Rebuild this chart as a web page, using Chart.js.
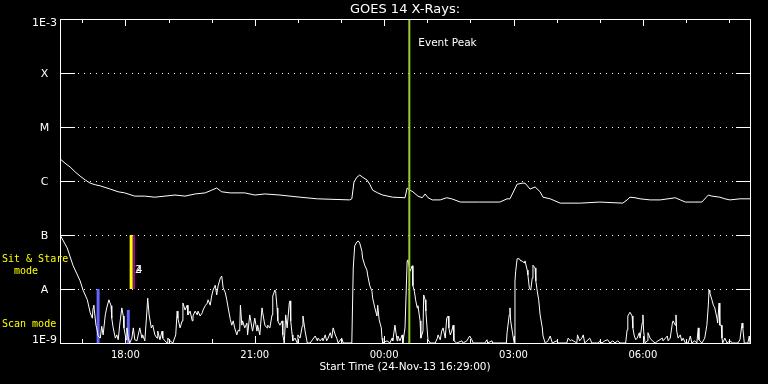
<!DOCTYPE html>
<html><head><meta charset="utf-8">
<script src="https://cdn.jsdelivr.net/npm/chart.js@4/dist/chart.umd.min.js"></script>
<style>html,body{margin:0;padding:0;background:#000;}#wrap{width:768px;height:384px;position:relative;}</style>
</head><body><div id="wrap"><canvas id="c" width="768" height="384"></canvas></div>
<script>
// ---- data ----
const chartTitle = 'GOES 14 X-Rays:';
const axisTitle = 'Start Time (24-Nov-13 16:29:00)';
const spanMin = 960; // minutes after 16:29 start

const classTickValues = [1e-9, 1e-8, 1e-7, 1e-6, 1e-5, 1e-4, 1e-3];
const classTickLabels = ['1E-9', 'A', 'B', 'C', 'M', 'X', '1E-3'];

const timeTickMin = [91, 271, 451, 631, 811];
const timeTickLabels = ['18:00', '21:00', '00:00', '03:00', '06:00'];
const hourTickMin = [31, 91, 151, 211, 271, 331, 391, 451, 511, 571, 631, 691, 751, 811, 871, 931];

// long channel (1-8 A), minutes after start, log10 flux W/m^2
const longTimesMin = [0,7,14,21,28,35,42,49,56,70, 81,90,104,118,132,146,160,174,188,202,
  211,218,225,237,257,271,285,306,320,334, 358,403,406,409,413,417,421,427,431,435,
  442,449,463,480,483,487,491,498,504,508, 512,518,529,538,545,557,584,612,622,626,
  636,643,647,654,661,668,672,682,696,724, 751,783,789,793,800,807,821,835,846,856,
  863,870,893,902,907,918,925,932,946,960];
const longLog10Flux = [-5.59,-5.67,-5.74,-5.83,-5.91,-5.98,-6.04,-6.07,-6.09,-6.15,
  -6.20,-6.22,-6.28,-6.28,-6.30,-6.28,-6.26,-6.28,-6.24,-6.22,
  -6.17,-6.13,-6.20,-6.22,-6.22,-6.26,-6.24,-6.26,-6.28,-6.30,
  -6.33,-6.35,-6.33,-6.02,-5.93,-5.89,-5.93,-5.98,-6.06,-6.17,
  -6.22,-6.26,-6.30,-6.31,-6.13,-6.17,-6.20,-6.28,-6.31,-6.24,
  -6.31,-6.35,-6.35,-6.31,-6.33,-6.39,-6.39,-6.39,-6.33,-6.33,
  -6.06,-6.04,-6.04,-6.15,-6.11,-6.20,-6.30,-6.33,-6.41,-6.41,
  -6.39,-6.41,-6.35,-6.30,-6.31,-6.33,-6.35,-6.35,-6.33,-6.31,
  -6.35,-6.39,-6.39,-6.26,-6.28,-6.30,-6.33,-6.35,-6.33,-6.33];

// short channel (0.5-4 A)
const shortTimesMin = [0,1,10,18,28,32,38,42,45,46,
  47,50,51,53,56,58,60,63,65,68,
  71,72,74,77,79,81,83,86,88,89,
  92,93,95,97,100,102,104,107,111,114,
  115,118,121,122,124,127,129,132,135,136,
  139,142,143,146,149,150,153,157,161,163,
  164,167,170,171,174,177,178,181,184,185,
  188,191,192,195,198,199,202,205,206,209,
  211,213,216,218,220,223,225,227,230,232,
  234,237,239,241,243,246,248,250,251,253,
  254,257,260,261,264,267,268,271,274,275,
  278,281,282,285,288,289,292,295,296,299,
  300,302,303,306,309,310,312,314,316,319,
  320,321,323,324,327,330,331,334,337,338,
  341,344,348,355,358,359,362,365,366,369,
  371,373,376,378,380,383,385,387,392,394,
  406,408,410,413,415,417,420,421,424,427,
  428,431,434,435,438,441,442,444,447,448,
  449,455,459,462,463,466,469,470,473,476,
  477,480,483,484,487,490,491,493,495,497,
  498,501,502,505,506,508,509,511,512,515,
  522,525,526,529,531,533,536,538,540,541,
  543,545,547,548,552,559,561,566,570,573,
  575,591,594,595,601,602,621,622,625,626,
  627,630,632,633,634,636,639,641,643,646,
  647,650,651,653,655,657,658,661,662,664,
  666,668,671,672,675,679,682,685,691,693,
  705,707,710,712,714,719,720,723,726,728,
  730,737,740,749,751,754,758,762,765,769,
  772,776,779,787,789,790,793,796,797,799,
  801,803,806,807,810,811,812,814,817,818,
  821,824,828,832,838,839,845,846,849,852,
  853,856,857,858,860,863,865,867,870,874,
  877,879,883,886,888,889,893,897,900,902,
  903,904,907,909,911,914,915,917,918,920,
  921,922,925,928,932,936,943,946,949,950,
  952,957,959,960];
const shortLog10Flux = [-7.00,-7.02,-7.24,-7.56,-7.85,-8.02,-8.20,-8.44,-8.54,-8.35,
  -8.30,-8.67,-8.72,-8.87,-8.91,-8.69,-8.85,-8.48,-8.35,-8.20,
  -8.31,-8.54,-8.72,-8.91,-8.85,-8.94,-8.67,-8.35,-8.50,-8.72,
  -8.94,-8.72,-8.91,-9.00,-8.91,-8.72,-8.94,-8.96,-8.72,-8.91,
  -8.85,-8.96,-8.39,-8.17,-8.48,-8.72,-8.67,-8.85,-8.91,-8.78,
  -8.94,-8.78,-8.91,-8.96,-9.00,-8.91,-8.96,-9.00,-8.85,-8.41,
  -8.54,-8.72,-8.59,-8.26,-8.39,-8.30,-8.48,-8.41,-8.59,-8.50,
  -8.41,-8.48,-8.41,-8.50,-8.44,-8.39,-8.31,-8.26,-8.20,-8.30,
  -8.13,-8.02,-7.93,-8.11,-7.94,-7.80,-7.76,-7.98,-8.07,-8.20,
  -8.35,-8.57,-8.67,-8.59,-8.72,-8.85,-8.76,-8.78,-8.30,-8.67,
  -8.59,-8.72,-8.63,-8.85,-8.48,-8.72,-8.78,-8.54,-8.78,-8.67,
  -8.85,-8.35,-8.44,-8.67,-8.72,-8.67,-8.72,-8.48,-8.13,-8.02,
  -8.04,-8.35,-8.59,-8.67,-8.59,-8.85,-9.00,-8.48,-8.72,-8.26,
  -8.22,-8.59,-8.85,-8.96,-8.91,-9.00,-8.85,-8.91,-8.69,-8.50,
  -8.78,-9.00,-9.00,-8.87,-8.96,-8.91,-8.96,-8.91,-8.96,-8.85,
  -8.96,-8.91,-8.81,-8.91,-8.72,-8.85,-8.91,-9.00,-8.91,-9.00,
  -9.00,-7.61,-7.20,-7.13,-7.11,-7.15,-7.30,-7.43,-7.56,-7.65,
  -7.74,-7.94,-8.04,-8.17,-8.35,-8.50,-8.30,-8.57,-8.72,-8.91,
  -9.00,-8.96,-9.00,-8.91,-8.96,-8.67,-8.96,-8.87,-8.96,-8.85,
  -9.00,-8.72,-7.48,-7.46,-7.67,-7.57,-7.94,-8.04,-8.22,-8.35,
  -8.31,-8.59,-8.91,-8.78,-8.11,-8.20,-8.41,-8.78,-8.94,-9.00,
  -9.00,-8.91,-8.85,-8.94,-8.78,-8.72,-8.91,-8.54,-8.50,-8.72,
  -8.85,-8.78,-8.67,-8.96,-9.00,-8.96,-9.00,-8.96,-8.87,-8.94,
  -9.00,-9.00,-8.94,-9.00,-8.96,-9.00,-9.00,-8.81,-8.48,-8.35,
  -8.59,-8.85,-9.00,-7.85,-7.67,-7.44,-7.44,-7.48,-7.48,-7.52,
  -7.48,-7.65,-7.74,-7.98,-8.02,-7.80,-7.56,-7.61,-7.85,-8.04,
  -8.20,-8.48,-8.72,-8.87,-9.00,-8.96,-8.87,-9.00,-8.96,-9.00,
  -9.00,-8.91,-8.96,-8.94,-8.96,-9.00,-8.85,-8.96,-8.91,-8.85,
  -9.00,-8.91,-9.00,-9.00,-8.96,-9.00,-8.96,-8.94,-9.00,-8.96,
  -9.00,-8.96,-9.00,-9.00,-8.76,-8.50,-8.43,-8.50,-8.72,-8.87,
  -8.94,-8.91,-8.81,-8.91,-8.63,-8.48,-8.78,-9.00,-8.96,-8.81,
  -8.91,-8.96,-9.00,-8.96,-8.91,-8.96,-8.87,-8.96,-8.91,-8.63,
  -8.59,-8.67,-8.48,-8.78,-8.91,-8.85,-8.96,-8.91,-9.00,-9.00,
  -8.87,-9.00,-8.96,-9.00,-8.72,-8.94,-9.00,-8.91,-8.67,-8.30,
  -8.02,-8.07,-8.20,-8.30,-8.35,-8.54,-8.63,-8.26,-8.67,-8.67,
  -8.91,-9.00,-8.91,-9.00,-8.96,-9.00,-9.00,-8.94,-8.63,-8.72,
  -9.00,-9.00,-8.87,-9.00];

// markers
const eventPeakMin = 486;
const sitStareMin = [99, 103];          // yellow, magenta
const sitStareRange = [1e-8, 1e-7];
const scanModeMin = [53, 95];
const scanModeTop = [1e-8, 4.1e-9];
const scanModeBottom = 1e-9;

// ---- build ----
const toPoints = (ts, ls) => ts.map((t, i) => ({x: t, y: Math.pow(10, ls[i])}));
const vline = (t, lo, hi) => [{x: t, y: lo}, {x: t, y: hi}];

const base = {pointRadius: 0, tension: 0, fill: false, spanGaps: true};
const datasets = [
  Object.assign({label: 'Event Peak', data: vline(eventPeakMin, 1e-9, 1e-3), borderColor: '#9acd32', borderWidth: 2, order: 0}, base),
  Object.assign({label: 'Sit & Stare', data: vline(sitStareMin[0], sitStareRange[0], sitStareRange[1]), borderColor: '#ffff00', borderWidth: 3, order: 0}, base),
  Object.assign({label: 'Sit & Stare 2', data: vline(sitStareMin[1], sitStareRange[0], sitStareRange[1]), borderColor: '#cc00cc', borderWidth: 1.5, order: 0}, base),
  Object.assign({label: 'long', data: toPoints(longTimesMin, longLog10Flux), borderColor: '#ffffff', borderWidth: 1, order: 1}, base),
  Object.assign({label: 'short', data: toPoints(shortTimesMin, shortLog10Flux), borderColor: '#ffffff', borderWidth: 1, order: 1}, base),
  Object.assign({label: 'Scan 1', data: vline(scanModeMin[0], scanModeBottom, scanModeTop[0]), borderColor: '#6464ff', borderWidth: 3, order: 2}, base),
  Object.assign({label: 'Scan 2', data: vline(scanModeMin[1], scanModeBottom, scanModeTop[1]), borderColor: '#6464ff', borderWidth: 3, order: 2}, base)
];

const goesDecor = {
  id: 'goesDecor',
  beforeDatasetsDraw(chart) {
    const {ctx, chartArea: a, scales: {y}} = chart;
    ctx.save();
    ctx.fillStyle = '#ffffff';
    classTickValues.forEach((v, i) => {
      if (i === 0 || i === classTickValues.length - 1) return;
      const py = Math.round(y.getPixelForValue(v));
      for (let px = a.left + 18; px <= a.right - 17; px += 6) ctx.fillRect(px, py, 1, 1);
    });
    ctx.restore();
  },
  afterDatasetsDraw(chart) {
    const {ctx, chartArea: a, scales: {x, y}} = chart;
    ctx.save();
    ctx.strokeStyle = '#ffffff';
    ctx.lineWidth = 1;
    ctx.strokeRect(a.left + 0.5, a.top + 0.5, a.right - a.left, a.bottom - a.top);
    ctx.beginPath();
    classTickValues.forEach((v, i) => {
      if (i === 0 || i === classTickValues.length - 1) return;
      const py = Math.round(y.getPixelForValue(v)) + 0.5;
      ctx.moveTo(a.left, py); ctx.lineTo(a.left + 15, py);
      ctx.moveTo(a.right - 14, py); ctx.lineTo(a.right, py);
    });
    hourTickMin.forEach(t => {
      const px = Math.round(x.getPixelForValue(t)) + 0.5;
      const len = timeTickMin.includes(t) ? 7 : 4;
      ctx.moveTo(px, a.top); ctx.lineTo(px, a.top + len);
      ctx.moveTo(px, a.bottom); ctx.lineTo(px, a.bottom - len);
    });
    ctx.stroke();
    ctx.restore();
  },
  afterDraw(chart) {
    const {ctx, chartArea: a, scales: {x, y}} = chart;
    ctx.save();
    ctx.fillStyle = '#ffffff';
    ctx.font = '11px "DejaVu Sans"';
    ctx.textAlign = 'center';
    ctx.textBaseline = 'middle';
    classTickValues.forEach((v, i) => {
      let py = y.getPixelForValue(v) + 1;
      if (i === classTickValues.length - 1) py += 3;
      if (i === 0) py -= 4;
      ctx.fillText(classTickLabels[i], 44.5, py);
    });
    ctx.textAlign = 'left';
    ctx.font = '10.5px "DejaVu Sans"';
    ctx.fillText('Event Peak', x.getPixelForValue(eventPeakMin) + 9, 43);
    ctx.font = '10px "DejaVu Sans"';
    const sx = x.getPixelForValue(sitStareMin[1]) + 1;
    const sy = y.getPixelForValue(2.2e-8);
    ctx.fillText('2', sx, sy);
    ctx.fillText('4', sx + 1, sy);
    ctx.fillStyle = '#ffff00';
    ctx.font = '10px "DejaVu Sans Mono"';
    ctx.fillText('Sit & Stare', 2, 259);
    ctx.fillText('  mode', 2, 271);
    ctx.fillText('Scan mode', 2, 324);
    ctx.restore();
  }
};

new Chart(document.getElementById('c'), {
  type: 'line',
  data: {datasets},
  options: {
    responsive: false,
    animation: false,
    devicePixelRatio: 1,
    layout: {padding: {left: 60, right: 18, top: 0, bottom: 0}},
    plugins: {
      legend: {display: false},
      tooltip: {enabled: false},
      title: {display: true, text: chartTitle, color: '#ffffff',
        font: {family: 'DejaVu Sans', size: 13, weight: 'normal', lineHeight: 1},
        padding: {top: 3, bottom: 3}}
    },
    scales: {
      x: {
        type: 'linear', min: 0, max: spanMin, position: 'bottom',
        grid: {display: false, drawTicks: false},
        border: {display: false},
        afterBuildTicks: s => { s.ticks = timeTickMin.map(v => ({value: v})); },
        afterFit: s => { s.height = 41; },
        ticks: {color: '#ffffff', autoSkip: false, maxRotation: 0, padding: 6,
          font: {family: 'DejaVu Sans', size: 10, lineHeight: 1.2},
          callback: v => timeTickLabels[timeTickMin.indexOf(v)]},
        title: {display: true, text: axisTitle, color: '#ffffff',
          font: {family: 'DejaVu Sans', size: 10.5, lineHeight: 1},
          padding: {top: 0, bottom: 11}}
      },
      y: {
        type: 'logarithmic', min: 1e-9, max: 1e-3, display: false,
        afterBuildTicks: s => { s.ticks = classTickValues.map(v => ({value: v})); }
      }
    }
  },
  plugins: [goesDecor]
});
</script>
</body></html>
